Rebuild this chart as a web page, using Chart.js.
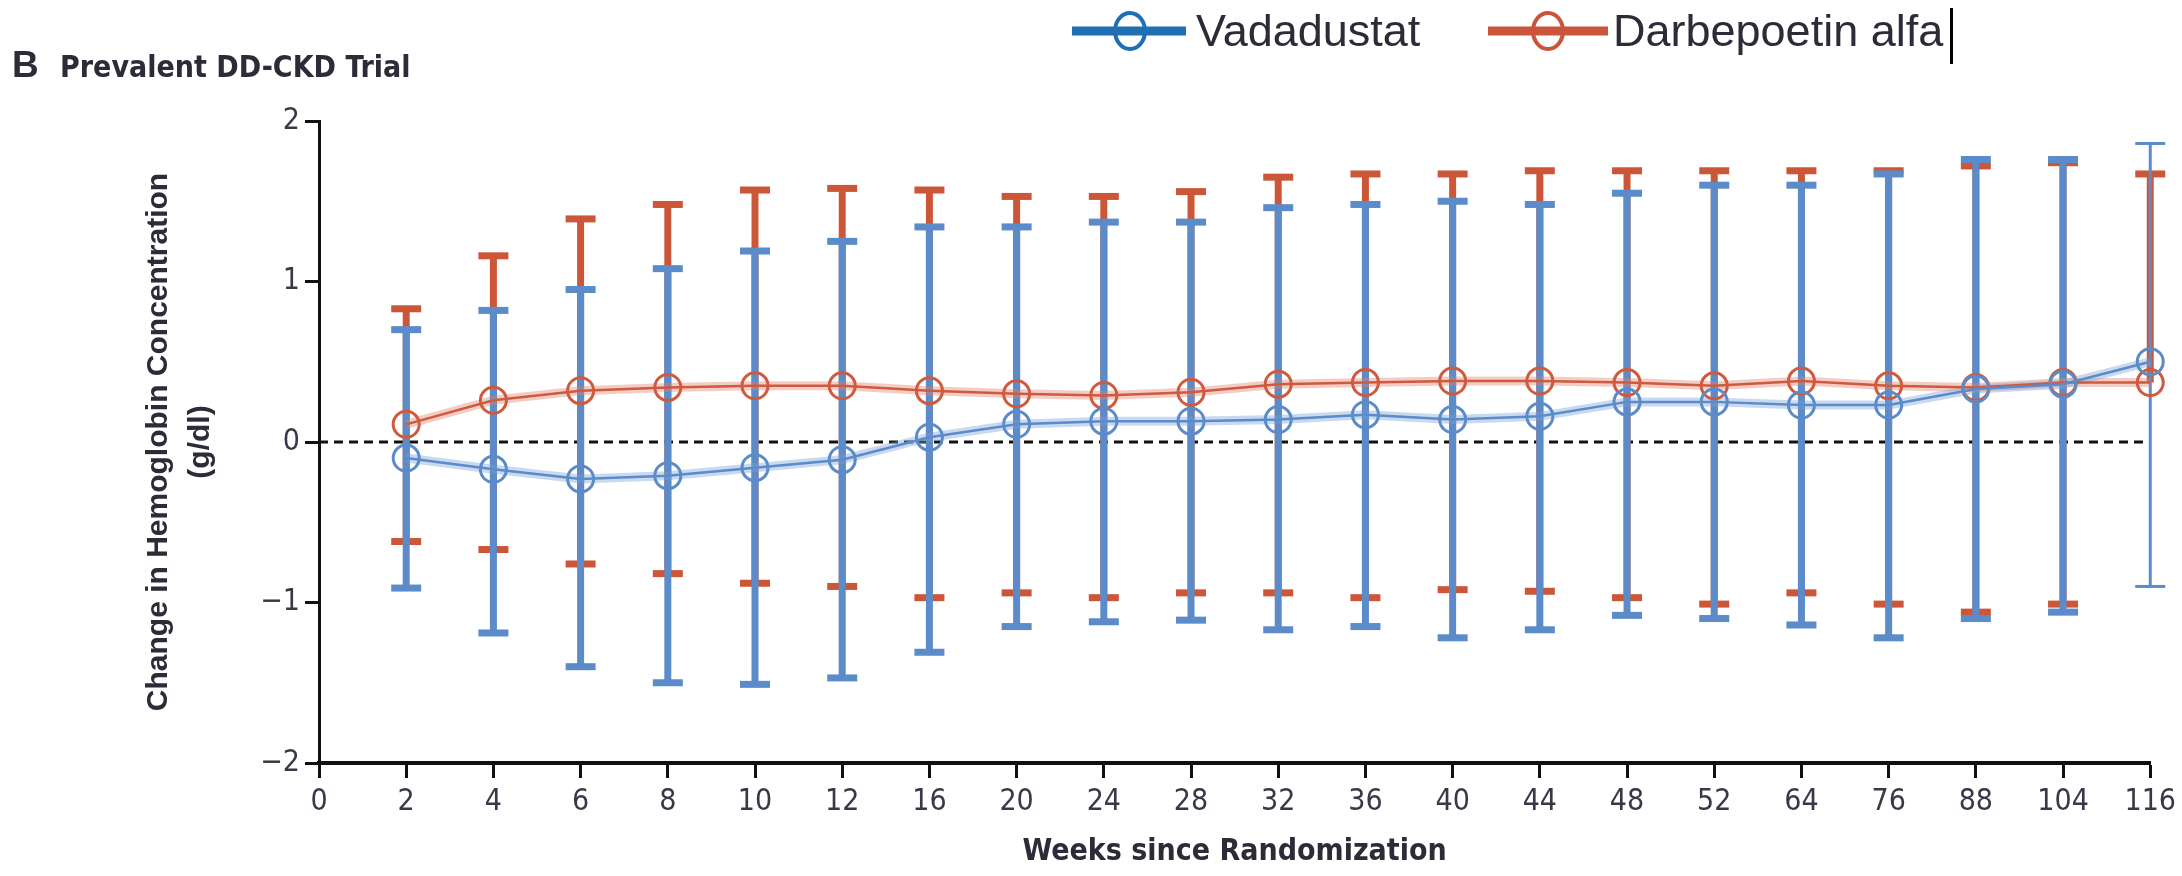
<!DOCTYPE html>
<html>
<head>
<meta charset="utf-8">
<script src="https://cdn.jsdelivr.net/npm/chart.js@4.4.1/dist/chart.umd.min.js"></script>
<style>
  html, body { margin: 0; padding: 0; background: #ffffff; }
  #wrap { width: 2182px; height: 876px; position: relative; }
</style>
</head>
<body>
<div id="wrap"><canvas id="chart" width="2182" height="876"></canvas></div>
<script>
// Visit weeks on the (evenly spaced) category axis
const weeks = ['0', '2', '4', '6', '8', '10', '12', '16', '20', '24', '28',
               '32', '36', '40', '44', '48', '52', '64', '76', '88', '104', '116'];

// Mean change in hemoglobin (g/dl) with spread limits, per visit
const vadaMean = [null, -0.10, -0.17, -0.23, -0.21, -0.16, -0.11, 0.03, 0.11, 0.13, 0.13,
                  0.14, 0.17, 0.14, 0.16, 0.25, 0.25, 0.23, 0.23, 0.33, 0.36, 0.50];
const vadaHi   = [null, 0.70, 0.82, 0.95, 1.08, 1.19, 1.25, 1.34, 1.34, 1.37, 1.37,
                  1.46, 1.48, 1.50, 1.48, 1.55, 1.60, 1.60, 1.67, 1.76, 1.76, 1.86];
const vadaLo   = [null, -0.91, -1.19, -1.40, -1.50, -1.51, -1.47, -1.31, -1.15, -1.12, -1.11,
                  -1.17, -1.15, -1.22, -1.17, -1.08, -1.10, -1.14, -1.22, -1.10, -1.06, -0.90];

const darbMean = [null, 0.11, 0.26, 0.32, 0.34, 0.35, 0.35, 0.32, 0.30, 0.29, 0.31,
                  0.36, 0.37, 0.38, 0.38, 0.37, 0.35, 0.38, 0.35, 0.34, 0.37, 0.37];
const darbHi   = [null, 0.83, 1.16, 1.39, 1.48, 1.57, 1.58, 1.57, 1.53, 1.53, 1.56,
                  1.65, 1.67, 1.67, 1.69, 1.69, 1.69, 1.69, 1.69, 1.72, 1.74, 1.67];
const darbLo   = [null, -0.62, -0.67, -0.76, -0.82, -0.88, -0.90, -0.97, -0.94, -0.97, -0.94,
                  -0.94, -0.97, -0.92, -0.93, -0.97, -1.01, -0.94, -1.01, -1.06, -1.01, null];

const yTicks = [-2, -1, 0, 1, 2];

const seriesNames = ['Vadadustat', 'Darbepoetin alfa'];
const panelLetter = 'B';
const panelTitle = 'Prevalent DD-CKD Trial';

// Colours
const BLUE_BAR = '#5b8bc8';
const RED_BAR = '#cc5738';
const BLUE_LINE = '#5b8bc8';
const RED_LINE = '#cf5a3e';
const BLUE_HALO = 'rgba(120,160,215,0.40)';
const RED_HALO = 'rgba(225,130,110,0.40)';
const BLUE_KEY = '#1f6fb4';
const RED_KEY = '#c9553a';
const TEXT = '#2e2a38';

const NARROW = "'DejaVu Sans Condensed', 'Liberation Sans Narrow', sans-serif";
const WIDE = "'Liberation Sans', Arial, sans-serif";

// Error bar geometry
const BAR_W = 7, CAP_W = 30, CAP_T = 7;
const thinBars = { vada: [21], darb: [] };

function drawSpread(chart, lo, hi, mean, color, thin) {
  const { ctx, scales: { x, y } } = chart;
  ctx.fillStyle = color;
  ctx.strokeStyle = color;
  for (let i = 0; i < hi.length; i++) {
    if (hi[i] == null) continue;
    const isThin = thin.includes(i);
    const bw = isThin ? 3 : BAR_W;
    const ct = isThin ? 3 : CAP_T;
    const px = x.getPixelForValue(i);
    const yTop = y.getPixelForValue(hi[i]);
    const yBot = y.getPixelForValue(lo[i] != null ? lo[i] : mean[i]);
    ctx.lineWidth = bw;
    ctx.beginPath();
    ctx.moveTo(px, yTop);
    ctx.lineTo(px, yBot);
    ctx.stroke();
    ctx.fillRect(px - CAP_W / 2, yTop - ct / 2, CAP_W, ct);
    if (lo[i] != null) ctx.fillRect(px - CAP_W / 2, yBot - ct / 2, CAP_W, ct);
  }
}

const spreadPlugin = {
  id: 'spread',
  beforeDatasetsDraw(chart) {
    const { ctx, scales: { x, y } } = chart;
    ctx.save();
    // zero reference line
    const y0 = y.getPixelForValue(0);
    ctx.strokeStyle = '#111';
    ctx.lineWidth = 3;
    ctx.setLineDash([9, 6]);
    ctx.beginPath();
    ctx.moveTo(x.left, y0);
    ctx.lineTo(x.right, y0);
    ctx.stroke();
    ctx.setLineDash([]);
    ctx.lineCap = 'butt';
    drawSpread(chart, darbLo, darbHi, darbMean, RED_BAR, thinBars.darb);
    drawSpread(chart, vadaLo, vadaHi, vadaMean, BLUE_BAR, thinBars.vada);
    ctx.restore();
  }
};

// Panel heading and series key
const headerPlugin = {
  id: 'header',
  afterDraw(chart) {
    const { ctx } = chart;
    ctx.save();
    ctx.fillStyle = TEXT;
    ctx.textBaseline = 'alphabetic';
    ctx.textAlign = 'left';
    ctx.font = `bold 37px ${WIDE}`;
    ctx.fillText(panelLetter, 12, 77);
    ctx.font = `bold 30px ${NARROW}`;
    ctx.fillText(panelTitle, 60, 77);

    const keys = [
      { name: seriesNames[0], color: BLUE_KEY, x0: 1072, x1: 1186, cx: 1130, tx: 1196 },
      { name: seriesNames[1], color: RED_KEY, x0: 1488, x1: 1608, cx: 1548, tx: 1613 }
    ];
    const ky = 31;
    keys.forEach(k => {
      ctx.strokeStyle = k.color;
      ctx.lineWidth = 9;
      ctx.beginPath();
      ctx.moveTo(k.x0, ky);
      ctx.lineTo(k.x1, ky);
      ctx.stroke();
      ctx.lineWidth = 4;
      ctx.beginPath();
      ctx.ellipse(k.cx, ky, 15, 18, 0, 0, Math.PI * 2);
      ctx.stroke();
      ctx.fillStyle = TEXT;
      ctx.font = `45px ${WIDE}`;
      ctx.textBaseline = 'middle';
      ctx.fillText(k.name, k.tx, ky + 3);
    });
    // text cursor after the key
    ctx.fillStyle = '#000';
    ctx.fillRect(1950, 8, 3, 56);
    ctx.restore();
  }
};

const commonLine = {
  spanGaps: true,
  tension: 0,
  pointBackgroundColor: 'rgba(0,0,0,0)',
  pointRadius: 13,
  pointBorderWidth: 3,
  pointHoverRadius: 13
};

new Chart(document.getElementById('chart'), {
  type: 'line',
  data: {
    labels: weeks,
    datasets: [
      Object.assign({}, commonLine, {
        label: seriesNames[0], data: vadaMean, borderColor: BLUE_LINE,
        pointBorderColor: BLUE_LINE, borderWidth: 2.5, order: 0
      }),
      Object.assign({}, commonLine, {
        label: seriesNames[1], data: darbMean, borderColor: RED_LINE,
        pointBorderColor: RED_LINE, borderWidth: 2.5, order: 1
      }),
      { label: 'halo-v', data: vadaMean, borderColor: BLUE_HALO, borderWidth: 9,
        pointRadius: 0, spanGaps: true, order: 2 },
      { label: 'halo-d', data: darbMean, borderColor: RED_HALO, borderWidth: 9,
        pointRadius: 0, spanGaps: true, order: 3 }
    ]
  },
  options: {
    responsive: false,
    animation: false,
    layout: { padding: { top: 121, right: 27, left: 0, bottom: 0 } },
    plugins: { legend: { display: false }, tooltip: { enabled: false } },
    scales: {
      x: {
        type: 'category',
        offset: false,
        grid: { drawOnChartArea: false, drawTicks: true, tickLength: 15, tickWidth: 3, tickColor: '#111', color: '#111' },
        border: { display: true, color: '#111', width: 4 },
        ticks: { font: { family: NARROW, size: 30 }, color: '#3a3848', padding: 6, maxRotation: 0, autoSkip: false },
        title: {
          display: true, text: 'Weeks since Randomization', color: TEXT,
          font: { family: NARROW, size: 30, weight: 'bold', lineHeight: 1.2 },
          padding: { top: 0, bottom: 6 }
        },
        afterFit(s) { s.height = 113; }
      },
      y: {
        min: -2, max: 2,
        afterBuildTicks(s) { s.ticks = yTicks.map(v => ({ value: v })); },
        ticks: {
          font: { family: NARROW, size: 30 }, color: '#3a3848', padding: 5,
          callback: v => (v < 0 ? '\u2212' + Math.abs(v) : String(v))
        },
        grid: { drawOnChartArea: false, drawTicks: true, tickLength: 14, tickWidth: 3, tickColor: '#111', color: '#111' },
        border: { display: true, color: '#111', width: 3 },
        title: {
          display: true, text: ['Change in Hemoglobin Concentration', '(g/dl)'], color: TEXT,
          font: { family: WIDE, size: 30, weight: 'bold', lineHeight: 1.4 },
          padding: { top: 138, bottom: 0 }
        },
        afterFit(s) { s.width = 319; }
      }
    }
  },
  plugins: [spreadPlugin, headerPlugin]
});
</script>
</body>
</html>
